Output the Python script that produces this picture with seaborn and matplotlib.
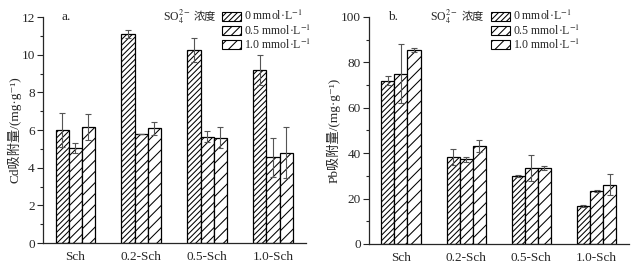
import numpy as np
import pandas as pd
import matplotlib
matplotlib.use("Agg")
import matplotlib.pyplot as plt
import matplotlib.patches as mpatches
import seaborn as sns

categories = ["Sch", "0.2-Sch", "0.5-Sch", "1.0-Sch"]
levels = ["0 mmol·L$^{-1}$", "0.5 mmol·L$^{-1}$", "1.0 mmol·L$^{-1}$"]

cd_0 = [6.0, 11.1, 10.25, 9.2]
cd_05 = [5.05, 5.8, 5.65, 4.55]
cd_10 = [6.15, 6.1, 5.6, 4.8]
cd_err_0 = [0.9, 0.2, 0.65, 0.8]
cd_err_05 = [0.25, 0.0, 0.3, 1.05]
cd_err_10 = [0.7, 0.35, 0.55, 1.35]

pb_0 = [72.0, 38.3, 30.0, 16.7]
pb_05 = [75.0, 37.3, 33.3, 23.3]
pb_10 = [85.5, 43.2, 33.5, 26.2]
pb_err_0 = [2.0, 3.5, 0.5, 0.3]
pb_err_05 = [13.0, 1.0, 5.7, 0.5]
pb_err_10 = [1.0, 2.8, 0.7, 4.5]

sns.set_style("ticks")
plt.rcParams["font.family"] = ["Liberation Serif", "Noto Sans CJK SC", "DejaVu Sans"]
plt.rcParams["mathtext.fontset"] = "stix"
plt.rcParams["hatch.linewidth"] = 0.75
plt.rcParams["hatch.color"] = "#222222"

hatches = ["//////", "////", "///"]
FS = 9.5
LFS = 8.5

def make_df(v0, v05, v10):
    rows = []
    for lv, vals in zip(levels, [v0, v05, v10]):
        for c, v in zip(categories, vals):
            rows.append({"cat": c, "level": lv, "val": v})
    return pd.DataFrame(rows)

fig = plt.figure(figsize=(6.39, 2.70), dpi=100)
ax1 = fig.add_axes([0.0673, 0.100, 0.4116, 0.837])
ax2 = fig.add_axes([0.5775, 0.0963, 0.407, 0.841])

def draw(ax, df, errs, ymax, major, minor, ylabel, panel, legx, so4x, lpad):
    sns.barplot(data=df, x="cat", y="val", hue="level", order=categories,
                hue_order=levels, errorbar=None, width=0.6, gap=0,
                palette=["white"] * 3, edgecolor="black", linewidth=0.9,
                ax=ax, legend=False)
    for cont, h, e in zip(ax.containers, hatches, errs):
        xs, ys = [], []
        for p in cont:
            p.set_hatch(h)
            p.set_facecolor("white")
            xs.append(p.get_x() + p.get_width() / 2)
            ys.append(p.get_height())
        ax.errorbar(xs, ys, yerr=e, fmt="none", ecolor="#555555",
                    elinewidth=0.8, capsize=2.5, capthick=0.8, zorder=5)
    ax.set_xlim(-0.49, 3.5)
    ax.set_ylim(0, ymax)
    ax.set_yticks(np.arange(0, ymax + 0.01, major))
    ax.set_yticks(np.arange(minor, ymax, major), minor=True)
    ax.tick_params(axis="y", which="major", length=4, width=0.8, labelsize=FS, pad=2)
    ax.tick_params(axis="y", which="minor", length=2.5, width=0.8)
    ax.tick_params(axis="x", length=0, labelsize=FS, pad=6)
    sns.despine(ax=ax)
    for s in ["left", "bottom"]:
        ax.spines[s].set_linewidth(0.9)
    ax.set_xlabel("")
    ax.set_ylabel(ylabel, fontsize=FS, labelpad=lpad)
    ax.text(0.072, 1.0, panel, transform=ax.transAxes, fontsize=FS, va="center", ha="left")
    so = ax.text(so4x, 1.0, "SO$_4^{2-}$", transform=ax.transAxes, fontsize=LFS,
                 va="center", ha="left")
    ax.annotate("浓度", xy=(1.0, 0.5), xycoords=so, xytext=(2.5, 0),
                textcoords="offset points", fontsize=8, va="center", ha="left")
    handles = [mpatches.Patch(facecolor="white", edgecolor="black", hatch=h, linewidth=0.8)
               for h in hatches]
    ax.legend(handles, levels, loc="upper left", bbox_to_anchor=(legx, 1.035),
              frameon=False, fontsize=LFS, borderpad=0, borderaxespad=0,
              handlelength=1.6, handleheight=0.8, handletextpad=0.25,
              labelspacing=0.0)

draw(ax1, make_df(cd_0, cd_05, cd_10), [cd_err_0, cd_err_05, cd_err_10],
     12, 2, 1, "Cd吸附量/(mg·g⁻¹)", "a.", 0.68, 0.456, 0)
draw(ax2, make_df(pb_0, pb_05, pb_10), [pb_err_0, pb_err_05, pb_err_10],
     100, 20, 10, "Pb吸附量/(mg·g⁻¹)", "b.", 0.469, 0.235, 0)

fig.savefig("out.png", dpi=100)
